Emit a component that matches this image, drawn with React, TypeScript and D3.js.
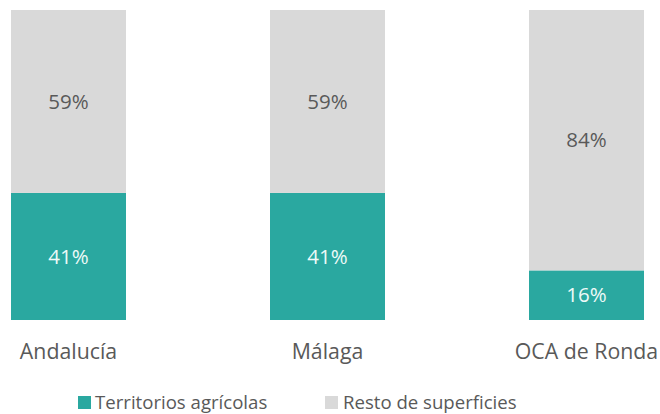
import React from "react";
import * as d3 from "d3";

const categories = ["Andalucía", "Málaga", "OCA de Ronda"];
const agricola = [41, 41, 16];
const resto = [59, 59, 84];
const seriesNames = ["Territorios agrícolas", "Resto de superficies"];
const colors = ["#2aa8a0", "#d9d9d9"];

export default function App() {
  const W = 660, H = 414;
  const x = d3.scaleBand<string>().domain(categories).range([11, 644]).paddingInner(0.556).paddingOuter(0);
  const y = d3.scaleLinear().domain([0, 100]).range([320, 10]);
  const font = "'Open Sans', sans-serif";
  return (
    <svg width={W} height={H} style={{ position: "absolute", left: 0, top: 0, background: "#fff" }}>
      {categories.map((c, i) => {
        const x0 = x(c)!;
        const bw = x.bandwidth();
        const a = agricola[i], r = resto[i];
        return (
          <g key={c}>
            <rect x={x0} y={y(a)} width={bw} height={y(0) - y(a)} fill={colors[0]} />
            <rect x={x0} y={y(a + r)} width={bw} height={y(a) - y(a + r)} fill={colors[1]} />
            <text x={x0 + bw / 2} y={(y(0) + y(a)) / 2} dy="0.35em" textAnchor="middle" fontFamily={font} fontSize={20.5} fill="#eefaf8">{a}%</text>
            <text x={x0 + bw / 2} y={(y(a) + y(a + r)) / 2} dy="0.35em" textAnchor="middle" fontFamily={font} fontSize={20.5} fill="#595959">{r}%</text>
            <text x={x0 + bw / 2} y={352} dy="0.35em" textAnchor="middle" fontFamily={font} fontSize={21.3} fill="#595959">{c}</text>
          </g>
        );
      })}
      <g>
        <rect x={78} y={396} width={13} height={13} fill={colors[0]} />
        <text x={95} y={402} dy="0.35em" fontFamily={font} fontSize={18.6} fill="#595959">{seriesNames[0]}</text>
        <rect x={325} y={396} width={13} height={13} fill={colors[1]} />
        <text x={343} y={402} dy="0.35em" fontFamily={font} fontSize={18.6} fill="#595959">{seriesNames[1]}</text>
      </g>
    </svg>
  );
}
